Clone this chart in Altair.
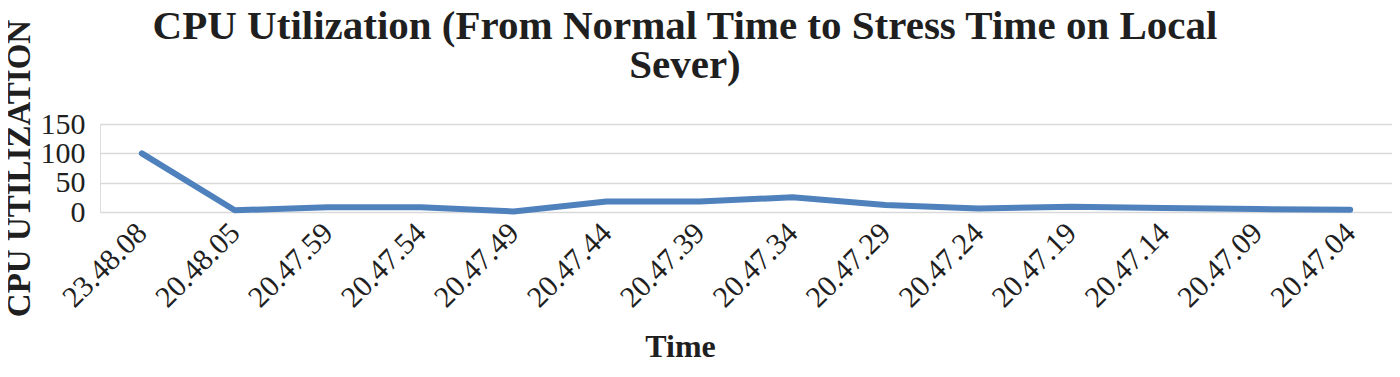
import altair as alt
import pandas as pd

TIMES = ["23.48.08", "20.48.05", "20.47.59", "20.47.54", "20.47.49", "20.47.44", "20.47.39",
         "20.47.34", "20.47.29", "20.47.24", "20.47.19", "20.47.14", "20.47.09", "20.47.04"]
CPU = [100, 3, 8, 8, 1, 18, 18, 25, 12, 6, 9, 7, 5, 4]
Y_TICKS = [0, 50, 100, 150]
TITLE_LINES = ["CPU Utilization (From Normal Time to Stress Time on Local", "Sever)"]
X_TITLE = "Time"
Y_TITLE = "CPU UTILIZATION"

df = pd.DataFrame({"time": TIMES, "cpu": CPU})

SERIF = "Liberation Serif"
TEXT = "#1f1f1f"
GRID = "#D9D9D9"
LINE = "#4F81BD"

line = alt.Chart(df).mark_line(
    color=LINE, strokeWidth=6, strokeCap="round", strokeJoin="round"
).encode(
    x=alt.X(
        "time:N", sort=TIMES,
        scale=alt.Scale(type="point", padding=0.45),
        axis=alt.Axis(
            title=X_TITLE, labelAngle=315, labelAlign="right", labelBaseline="middle",
            labelPadding=16, labelFontSize=30, labelFont=SERIF, labelColor=TEXT,
            labelOverlap=False, ticks=False, domain=False, grid=False,
            titleFont=SERIF, titleFontSize=32, titleFontWeight="bold", titleColor=TEXT,
            titleX=580, titleY=144, titleAlign="center", titleBaseline="alphabetic",
        ),
    ),
    y=alt.Y(
        "cpu:Q",
        scale=alt.Scale(domain=[0, 150], nice=False, zero=True),
        axis=alt.Axis(
            title=Y_TITLE, values=Y_TICKS, labelFontSize=30, labelFont=SERIF,
            labelColor=TEXT, labelPadding=15, labelOverlap=False, ticks=False,
            domain=False, grid=True, gridColor=GRID, gridWidth=1.5,
            titleFont=SERIF, titleFontSize=33, titleFontWeight="bold", titleColor=TEXT,
            titleAngle=270, titleX=-71, titleY=44, titleAlign="center",
            titleBaseline="alphabetic",
        ),
    ),
)

title = alt.Chart(alt.Data(values=[{"k": 0}])).mark_text(
    text=TITLE_LINES, font=SERIF, fontSize=41, fontWeight="bold", color=TEXT,
    align="center", baseline="alphabetic", lineHeight=39,
).encode(x=alt.value(585), y=alt.value(-85))

chart = alt.layer(line, title).properties(
    width=1292, height=88,
    padding={"left": 92, "top": 116, "right": 0, "bottom": 152},
    autosize=alt.AutoSizeParams(type="none"),
).configure_view(strokeWidth=0).configure(background="white")

chart.save("out.html", embed_options={"renderer": "svg", "actions": False})
